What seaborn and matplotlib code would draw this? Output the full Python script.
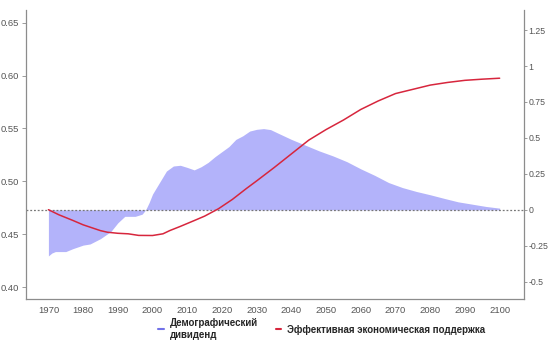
import numpy as np
import pandas as pd
import seaborn as sns
import matplotlib.pyplot as plt
from matplotlib.lines import Line2D

sns.set_style('white')
plt.rcParams['font.family'] = ['Liberation Sans', 'DejaVu Sans']

# Demographic dividend (right axis)
dividend_years = [1970, 1971, 1972, 1975, 1977, 1980, 1982, 1985, 1988, 1990,
                  1992, 1995, 1997, 1998, 1999, 2000, 2002, 2004, 2006, 2008,
                  2010, 2012, 2014, 2016, 2018, 2020, 2022, 2024, 2026, 2028,
                  2030, 2032, 2034, 2036, 2040, 2044, 2048, 2052, 2056, 2060,
                  2064, 2068, 2072, 2076, 2080, 2084, 2088, 2092, 2096, 2100]
dividend = [-0.32, -0.30, -0.29, -0.29, -0.27, -0.245, -0.237, -0.20, -0.15, -0.09,
            -0.045, -0.045, -0.03, 0.0, 0.05, 0.11, 0.19, 0.27, 0.305, 0.31,
            0.295, 0.278, 0.30, 0.33, 0.37, 0.405, 0.44, 0.49, 0.515, 0.548,
            0.56, 0.565, 0.558, 0.535, 0.49, 0.45, 0.41, 0.375, 0.335, 0.285,
            0.24, 0.19, 0.155, 0.128, 0.105, 0.08, 0.056, 0.04, 0.024, 0.012]

# Effective economic support (left axis)
support_years = [1970, 1973, 1977, 1980, 1982, 1985, 1987, 1990, 1993, 1996,
                 2000, 2003, 2005, 2008, 2012, 2015, 2019, 2023, 2027, 2030,
                 2035, 2040, 2045, 2050, 2055, 2060, 2065, 2070, 2075, 2080,
                 2085, 2090, 2095, 2100]
support = [0.4733, 0.4685, 0.4632, 0.459, 0.4568, 0.4535, 0.452, 0.451, 0.4505, 0.449,
           0.4489, 0.4505, 0.4536, 0.4575, 0.463, 0.4672, 0.4742, 0.483, 0.4932, 0.5005,
           0.513, 0.526, 0.539, 0.549, 0.558, 0.568, 0.576, 0.583, 0.587, 0.591,
           0.5935, 0.5955, 0.5966, 0.5975]

left_ticks = [0.40, 0.45, 0.50, 0.55, 0.60, 0.65]
right_ticks = [-0.5, -0.25, 0, 0.25, 0.5, 0.75, 1, 1.25]
right_labels = ['-0.5', '-0.25', '0', '0.25', '0.5', '0.75', '1', '1.25']
year_ticks = list(range(1970, 2101, 10))

fill_color = '#b3b3fa'
line_color = '#d7263d'
axis_color = '#8c8c8c'
text_color = '#555555'

fig = plt.figure(figsize=(5.5, 3.55), dpi=100)
ax = fig.add_axes([0.047, 0.158, 0.905, 0.814])
ax2 = ax.twinx()

df_div = pd.DataFrame({'year': dividend_years, 'value': dividend})
df_sup = pd.DataFrame({'year': support_years, 'value': support})

ax2.fill_between(df_div['year'], 0, df_div['value'], color=fill_color, lw=0)
ax2.axhline(0, color='#777777', ls=(0, (1.5, 1.5)), lw=0.9)
sns.lineplot(data=df_sup, x='year', y='value', ax=ax, color=line_color, lw=1.1)

ax.set_zorder(ax2.get_zorder() + 1)
ax.patch.set_visible(False)

ax.set_xlim(1963.5, 2106.9)
ax.set_ylim(0.389, 0.662)
ax2.set_ylim(-0.619, 1.39)

ax.set_xticks(year_ticks)
ax.set_yticks(left_ticks)
ax.set_yticklabels([f'{v:.2f}' for v in left_ticks])
ax2.set_yticks(right_ticks)
ax2.set_yticklabels(right_labels)
ax.set_xlabel('')
ax.set_ylabel('')

for a in (ax, ax2):
    for side in ('top', 'left', 'right', 'bottom'):
        a.spines[side].set_visible(False)
ax.spines['left'].set_visible(True)
ax.spines['bottom'].set_visible(True)
ax2.spines['right'].set_visible(True)
for a, sides in ((ax, ('left', 'bottom')), (ax2, ('right',))):
    for side in sides:
        a.spines[side].set_color(axis_color)
        a.spines[side].set_linewidth(0.9)
    a.tick_params(colors=axis_color, labelcolor=text_color, labelsize=6.8,
                  length=3, width=0.6, pad=2)
ax2.tick_params(labelsize=6.3, length=2, pad=1.5)

handles = [Line2D([], [], color='#7272e8', lw=1.5),
           Line2D([], [], color=line_color, lw=1.5)]
labels = ['Демографический\nдивиденд', 'Эффективная экономическая поддержка']
fig.legend(handles, labels, loc='center', bbox_to_anchor=(0.585, 0.074),
           ncol=2, frameon=False, handlelength=0.6, handletextpad=0.6,
           columnspacing=1.8, prop={'size': 7, 'weight': 'bold'})

fig.savefig('out.png', dpi=100)
